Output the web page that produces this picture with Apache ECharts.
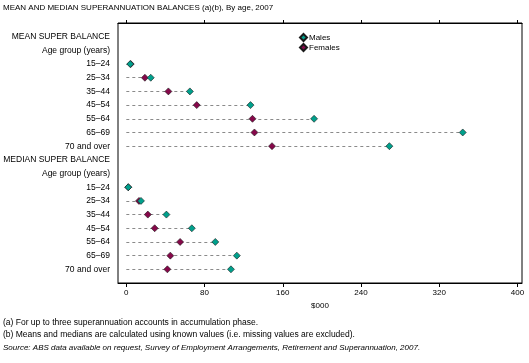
<!DOCTYPE html>
<html>
<head>
<meta charset="utf-8">
<script src="https://cdn.jsdelivr.net/npm/echarts@6/dist/echarts.min.js"></script>
<style>
html,body{margin:0;padding:0;background:#fff;}
#chart{width:529px;height:363px;}
</style>
</head>
<body>
<div id="chart"></div>
<script>
// ---- data ($000) ----
var ageGroups = ["15–24", "25–34", "35–44", "45–54", "55–64", "65–69", "70 and over"];
var meanMales = [4, 25, 65, 127, 192, 344, 269];
var meanFemales = [4.5, 19, 43, 72, 129, 131, 149];
var medianMales = [2, 15, 41, 67, 91, 113, 107];
var medianFemales = [2, 13, 22, 29, 55, 45, 42];
var xTicks = [0, 80, 160, 240, 320, 400];
var sectionLabels = ["MEAN SUPER BALANCE", "MEDIAN SUPER BALANCE"];
var subLabel = "Age group (years)";

// ---- build row list ----
var rowLabels = [];
var malePts = [], femalePts = [], dashLines = [];
function addSection(title, males, females) {
  rowLabels.push(title);
  rowLabels.push(subLabel);
  for (var i = 0; i < ageGroups.length; i++) {
    var r = rowLabels.length;
    rowLabels.push(ageGroups[i]);
    malePts.push([males[i], r]);
    femalePts.push([females[i], r]);
    dashLines.push({ coords: [[0, r], [Math.max(males[i], females[i]), r]] });
  }
}
addSection(sectionLabels[0], meanMales, meanFemales);
addSection(sectionLabels[1], medianMales, medianFemales);

var FONT = 'Liberation Sans';
var chart = echarts.init(document.getElementById('chart'), null, { renderer: 'canvas' });
chart.setOption({
  animation: false,
  backgroundColor: '#fff',
  textStyle: { fontFamily: FONT, color: '#000' },
  title: {
    text: 'MEAN AND MEDIAN SUPERANNUATION BALANCES (a)(b), By age, 2007',
    left: 0, top: 4, padding: [0, 0, 0, 3],
    textStyle: { fontFamily: FONT, fontSize: 8, fontWeight: 'normal', color: '#000' }
  },
  legend: {
    data: ['Males', 'Females'],
    orient: 'vertical',
    left: 294, top: 28,
    itemWidth: 7, itemHeight: 7, itemGap: 1,
    textStyle: { fontFamily: FONT, fontSize: 8, color: '#000', padding: [0, 0, 0, -3] }
  },
  grid: {
    left: 118, right: 7, top: 23, bottom: 80,
    show: true, borderColor: '#000', borderWidth: 1, backgroundColor: 'transparent'
  },
  xAxis: [{
    type: 'value', position: 'bottom',
    min: -8.5, max: 404.6,
    name: '$000', nameLocation: 'middle', nameGap: 19,
    nameTextStyle: { fontFamily: FONT, fontSize: 8, color: '#000' },
    axisLine: { show: true, onZero: false, lineStyle: { color: '#000' } },
    axisTick: { show: true, length: 4, customValues: xTicks, lineStyle: { color: '#000' } },
    axisLabel: { show: true, customValues: xTicks, fontFamily: FONT, fontSize: 8, color: '#000', margin: 6 },
    splitLine: { show: false }
  }, {
    type: 'value', position: 'top',
    min: -8.5, max: 404.6,
    axisLine: { show: true, onZero: false, lineStyle: { color: '#000' } },
    axisTick: { show: true, length: 3, customValues: xTicks, lineStyle: { color: '#000' } },
    axisLabel: { show: false },
    splitLine: { show: false }
  }],
  yAxis: {
    type: 'value', inverse: true,
    min: -1, max: rowLabels.length, interval: 1,
    axisLine: { show: false, onZero: false },
    axisTick: { show: false },
    splitLine: { show: false },
    axisLabel: {
      fontFamily: FONT, fontSize: 8.5, color: '#000', margin: 8,
      formatter: function (v) { return (v >= 0 && v < rowLabels.length) ? rowLabels[v] : ''; }
    }
  },
  series: [{
    type: 'lines',
    coordinateSystem: 'cartesian2d',
    data: dashLines,
    silent: true,
    z: 1,
    lineStyle: { color: '#8a8a8a', width: 1, type: [3, 3], opacity: 1 }
  }, {
    name: 'Females', type: 'scatter', data: femalePts, z: 3,
    symbol: 'diamond', symbolSize: 7,
    itemStyle: { color: '#86084a', borderColor: '#1a1a1a', borderWidth: 0.6, opacity: 1 }
  }, {
    name: 'Males', type: 'scatter', data: malePts, z: 4,
    symbol: 'diamond', symbolSize: 7,
    itemStyle: { color: '#00a08c', borderColor: '#1a1a1a', borderWidth: 0.6, opacity: 1 }
  }],
  graphic: [{
    type: 'text', left: 3, top: 318,
    style: { text: '(a) For up to three superannuation accounts in accumulation phase.', font: '8.5px "Liberation Sans"', fill: '#000' }
  }, {
    type: 'text', left: 3, top: 330,
    style: { text: '(b) Means and medians are calculated using known values (i.e. missing values are excluded).', font: '8.5px "Liberation Sans"', fill: '#000' }
  }, {
    type: 'text', left: 3, top: 344,
    style: { text: 'Source: ABS data available on request, Survey of Employment Arrangements, Retirement and Superannuation, 2007.', font: 'italic 8px "Liberation Sans"', fill: '#000' }
  }]
});
</script>
</body>
</html>
